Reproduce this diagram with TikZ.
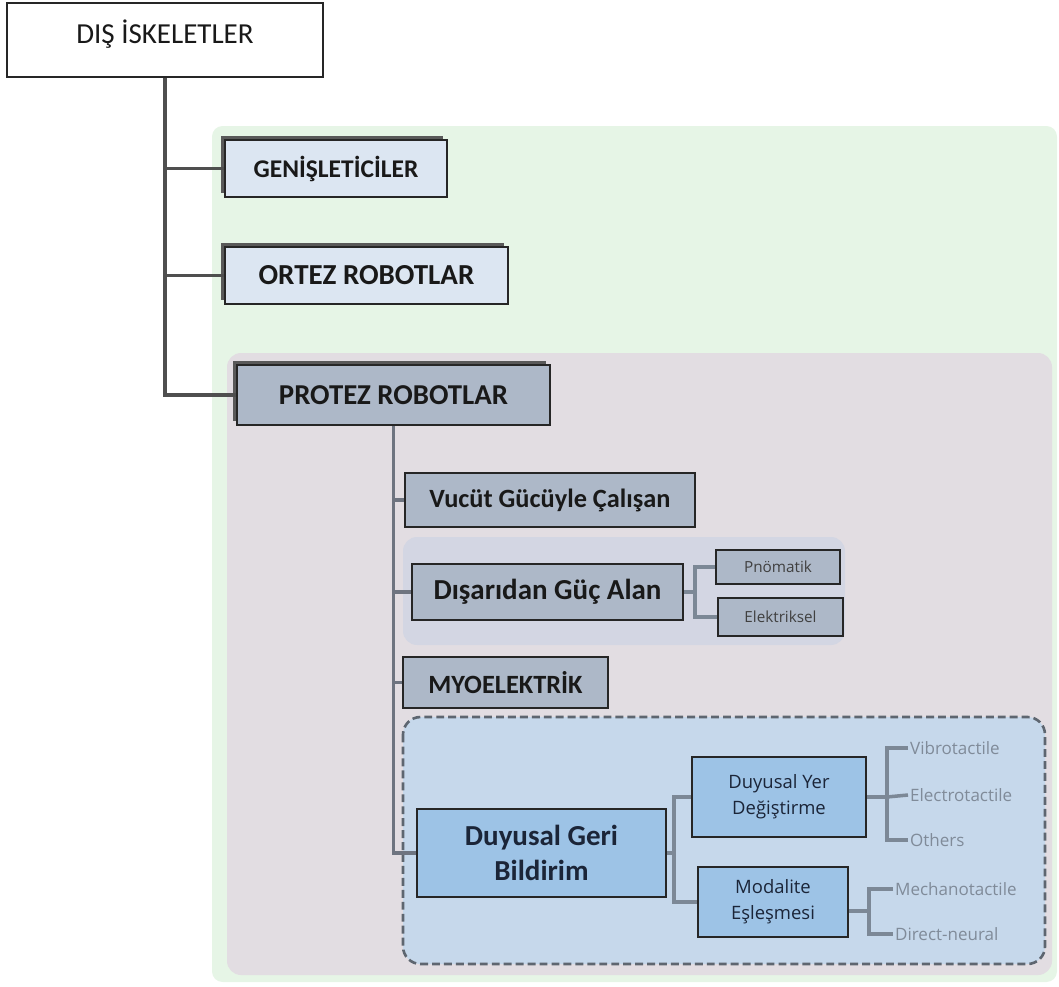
\documentclass[tikz,border=0pt]{standalone}
\usepackage{fontspec}
\setmainfont{Carlito}
\newfontfamily\smallfont{Open Sans}
\usetikzlibrary{shadows}
\definecolor{greenbg}{HTML}{E6F5E6}
\definecolor{lilacbg}{HTML}{E2DDE2}
\definecolor{bandbg}{HTML}{D3D6E3}
\definecolor{dashbg}{HTML}{C6D8EB}
\definecolor{dashln}{HTML}{5E6670}
\definecolor{lightbox}{HTML}{DCE6F2}
\definecolor{grayblue}{HTML}{ADB8C8}
\definecolor{bluebox}{HTML}{9DC3E6}
\definecolor{trunkc}{HTML}{4F4F4F}
\definecolor{trunkb}{HTML}{6E7480}
\definecolor{brc}{HTML}{7C8896}
\definecolor{leafc}{HTML}{808B99}
\definecolor{navy}{HTML}{1B2538}
\begin{document}
\begin{tikzpicture}[x=0.02cm,y=-0.02cm,
  wh/.style 2 args={minimum width=#1*0.02cm, minimum height=#2*0.02cm},
  box/.style={draw=black!85, line width=1.2pt, inner sep=0pt, align=center, text=black!90},
  shbox/.style={box, line width=1.7pt, drop shadow={shadow xshift=-2.2pt, shadow yshift=2.2pt, fill=black!65, opacity=1}},
  trunk/.style={draw=trunkc, line width=2pt},
  trunkii/.style={draw=trunkb, line width=1.9pt},
  br/.style={draw=brc, line width=2pt},
  leaf/.style={anchor=west, inner sep=1pt, text=leafc, font=\smallfont\fontsize{9.7}{11}\selectfont}
]
\useasboundingbox (0,0) rectangle (1059,987);
% backgrounds
\fill[greenbg, rounded corners=6pt] (212,126) rectangle (1057,982);
\fill[lilacbg, rounded corners=8pt] (227,353) rectangle (1052,975);
\fill[bandbg, rounded corners=8pt] (403,537) rectangle (845,645);
\filldraw[fill=dashbg, draw=dashln, line width=1.5pt, dash pattern=on 4.5pt off 2.3pt, rounded corners=10pt] (403,717) rectangle (1045,964);

% nodes
\node[box, fill=white, wh={316}{74}, text depth=9pt, font=\fontsize{16.5}{19}\selectfont] (dis) at (165,40) {DIŞ İSKELETLER};
\node[shbox, fill=lightbox, wh={222}{57}, font=\bfseries\fontsize{14.5}{17}\selectfont] (gen) at (336,168.5) {GENİŞLETİCİLER};
\node[shbox, fill=lightbox, wh={283}{57}, font=\bfseries\fontsize{16.5}{19}\selectfont] (ort) at (366.5,275.5) {ORTEZ ROBOTLAR};
\node[shbox, fill=grayblue, wh={313}{60}, font=\bfseries\fontsize{16.4}{19}\selectfont] (pro) at (393.5,395) {PROTEZ ROBOTLAR};
\node[box, fill=grayblue, wh={290}{54}, font=\bfseries\fontsize{15}{18}\selectfont] (vuc) at (550,500) {Vucüt Gücüyle Çalışan};
\node[box, fill=grayblue, wh={271}{56}, font=\bfseries\fontsize{16.5}{19}\selectfont] (dg) at (547.5,592) {Dışarıdan Güç Alan};
\node[box, fill=grayblue, wh={124}{34}, font=\smallfont\fontsize{8.7}{10}\selectfont, text=black!75] (pn) at (778,567) {Pnömatik};
\node[box, fill=grayblue, wh={125}{38}, font=\smallfont\fontsize{8.7}{10}\selectfont, text=black!75] (el) at (780.5,617) {Elektriksel};
\node[box, fill=grayblue, wh={205}{51}, font=\bfseries\fontsize{15}{18}\selectfont] (myo) at (505.5,682.5) {MYOELEKTRİK};
\node[box, fill=bluebox, wh={249}{88}, text=navy, font=\bfseries\fontsize{16.5}{20.4}\selectfont] (dgb) at (541.5,853) {Duyusal Geri\\Bildirim};
\node[box, fill=bluebox, wh={174}{80}, text=navy, font=\smallfont\fontsize{10.5}{14.7}\selectfont] (dyd) at (779,797) {Duyusal Yer\\Değiştirme};
\node[box, fill=bluebox, wh={150}{70}, text=navy, font=\smallfont\fontsize{10.5}{14.7}\selectfont] (me) at (773,902) {Modalite\\Eşleşmesi};

% leaves
\node[leaf] (vib) at (908,748) {Vibrotactile};
\node[leaf] (ele) at (908,795) {Electrotactile};
\node[leaf] (oth) at (908,840) {Others};
\node[leaf] (mec) at (893,889) {Mechanotactile};
\node[leaf] (dir) at (893,934) {Direct-neural};

% main trunk
\draw[trunk] (dis.south) |- (pro.west);
\draw[trunk] (dis.south |- gen.west) -- (gen.west);
\draw[trunk] (dis.south |- ort.west) -- (ort.west);

% second trunk
\draw[trunkii] (pro.south) |- (dgb.west);
\draw[trunkii] (pro.south |- vuc.west) -- (vuc.west);
\draw[trunkii] (pro.south |- dg.west) -- (dg.west);
\draw[trunkii] (pro.south |- myo.west) -- (myo.west);

% brackets
\coordinate (j1) at (695,592);
\draw[br] (dg.east) -- (j1);
\draw[br] (pn.west) -| (j1) |- (el.west);

\coordinate (j2) at (674,853);
\draw[br] (dgb.east) -- (j2);
\draw[br] (dyd.west) -| (j2) |- (me.west);

\coordinate (j3) at (887,797);
\draw[br] (dyd.east) -- (j3);
\draw[br] (vib.west) -| (j3) |- (oth.west);
\draw[br] (ele.west) -- (j3);

\coordinate (j4) at (869,911);
\draw[br] (me.east |- j4) -- (j4);
\draw[br] (mec.west) -| (j4) |- (dir.west);
\end{tikzpicture}
\end{document}
